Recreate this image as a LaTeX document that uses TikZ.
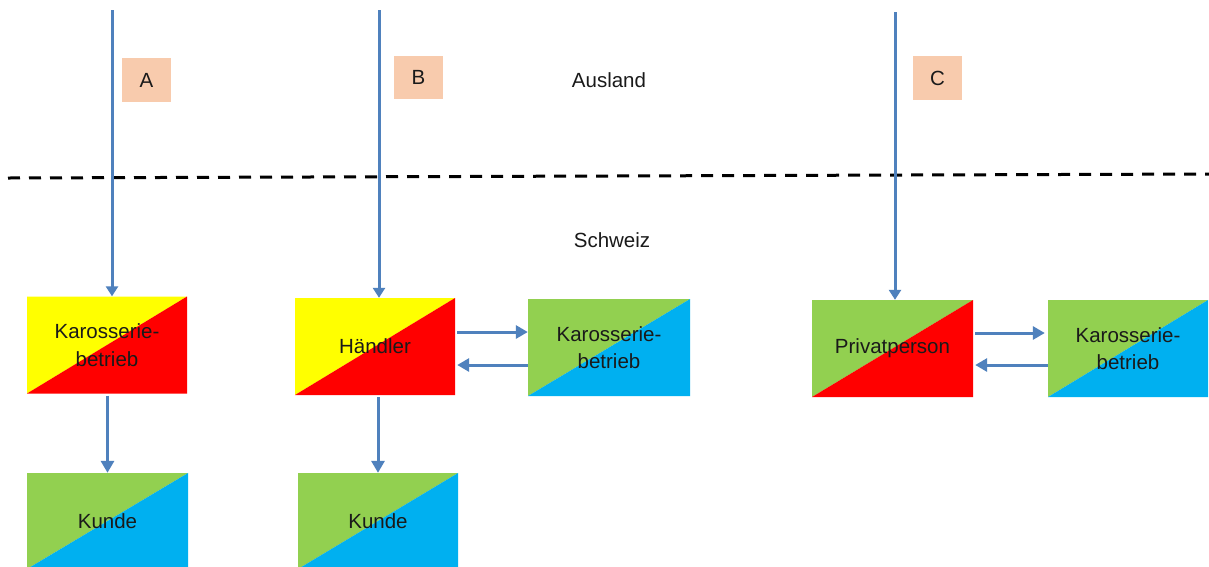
\documentclass[tikz,border=0pt]{standalone}
\usepackage{fontspec}
\setmainfont{Liberation Sans}
\usetikzlibrary{arrows.meta}
\definecolor{cyel}{HTML}{FFFF00}
\definecolor{cred}{HTML}{FF0000}
\definecolor{cgrn}{HTML}{92D050}
\definecolor{cblu}{HTML}{00B0F0}
\definecolor{carr}{HTML}{4F81BD}
\definecolor{cpea}{HTML}{F8CBAD}
\definecolor{ctxt}{HTML}{1A1A1A}
\tikzset{
  twotone/.style n args={2}{
    inner sep=0pt, minimum width=160pt, minimum height=97pt,
    text=ctxt, align=center,
    font=\fontsize{20.5}{27.5}\selectfont,
    path picture={
      \fill[#1] (path picture bounding box.south west) -- (path picture bounding box.north west) -- (path picture bounding box.north east) -- cycle;
      \fill[#2] (path picture bounding box.south west) -- (path picture bounding box.south east) -- (path picture bounding box.north east) -- cycle;
    }
  },
  lbl/.style={fill=cpea, inner sep=0pt, minimum width=49pt, minimum height=44pt, text=ctxt, font=\fontsize{20.5}{24}\selectfont},
  plain/.style={text=ctxt, font=\fontsize{20.5}{24}\selectfont},
  arr/.style={draw=carr, line width=3pt, -{Triangle[width=13pt,length=12pt]}},
  feed/.style={draw=carr, line width=3pt, -{Triangle[width=12pt,length=10pt]}},
  dashline/.style={draw=black, line width=3pt, dash pattern=on 12pt off 9pt}
}
\begin{document}
\begin{tikzpicture}[x=1pt,y=-1pt]
\useasboundingbox (0,0) rectangle (1209,566);
\fill[white] (0,0) rectangle (1209,566);
\begin{scope}
\clip (0,0) rectangle (1209,566);
% boxes
\node[twotone={cyel}{cred}] (ka) at (107,345) {Karosserie-\\betrieb};
\node[twotone={cgrn}{cblu}, minimum width=161pt, minimum height=96pt] (kua) at (107.5,521) {Kunde};
\node[twotone={cyel}{cred}] (h) at (375,346.5) {Händler};
\node[twotone={cgrn}{cblu}, minimum width=162pt] (kb) at (609,347.5) {Karosserie-\\betrieb};
\node[twotone={cgrn}{cblu}, minimum height=96pt] (kub) at (378,521) {Kunde};
\node[twotone={cgrn}{cred}, minimum width=161pt] (p) at (892.5,348.5) {Privatperson};
\node[twotone={cgrn}{cblu}] (kc) at (1128,348.5) {Karosserie-\\betrieb};
% labels
\node[lbl] (la) at (146.5,80) {A};
\node[lbl, minimum height=43pt] (lb) at (418.5,77.5) {B};
\node[lbl] (lc) at (937.5,78) {C};
\node[plain] (aus) at (609,80) {Ausland};
\node[plain] (sch) at (612,240) {Schweiz};
% border line
\coordinate (dl) at (8,178);
\coordinate (dr) at (1209,174);
\draw[dashline] (dl) -- (dr);
% feed lines
\coordinate (ta) at (112,10);
\coordinate (tb) at (379,10);
\coordinate (tc) at (895,12);
\draw[feed] (ta) -- (ta |- ka.north);
\draw[feed] (tb) -- (tb |- h.north);
\draw[feed] (tc) -- (tc |- p.north);
% flows
\draw[arr] ([yshift=-2pt]kua.north |- ka.south) -- (kua.north);
\draw[arr] ([yshift=-2pt]kub.north |- h.south) -- (kub.north);
\draw[arr] ([xshift=2pt]h.east |- 0,332) -- (kb.west |- 0,332);
\draw[arr] (kb.west |- 0,365) -- ([xshift=2pt]h.east |- 0,365);
\draw[arr] ([xshift=2pt]p.east |- 0,333) -- ([xshift=-3pt]kc.west |- 0,333);
\draw[arr] (kc.west |- 0,365) -- ([xshift=2pt]p.east |- 0,365);
\end{scope}
\end{tikzpicture}
\end{document}
